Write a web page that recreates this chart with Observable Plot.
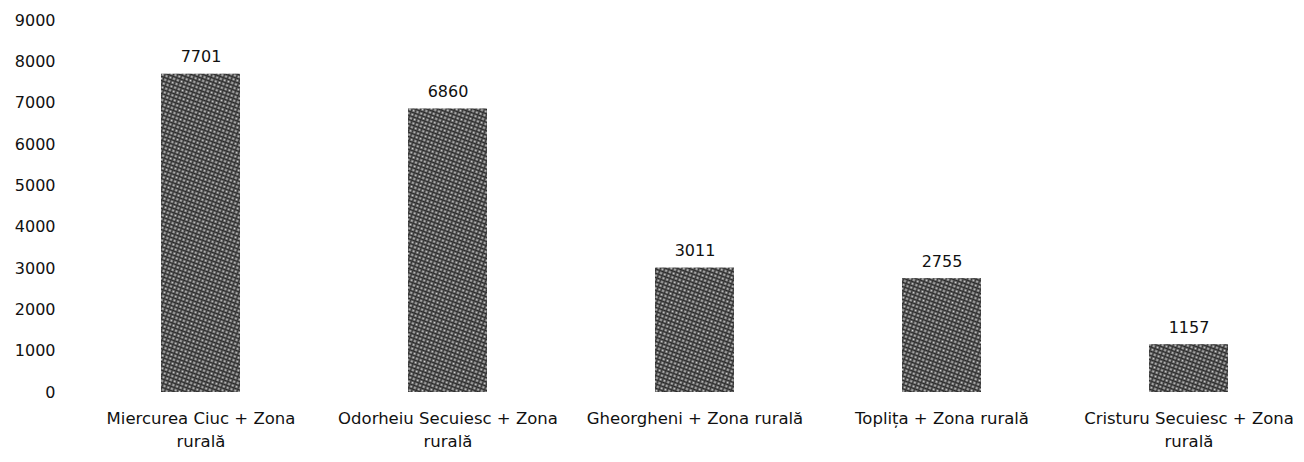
<!DOCTYPE html>
<html>
<head>
<meta charset="utf-8">
<script src="https://cdn.jsdelivr.net/npm/d3@7"></script>
<script src="https://cdn.jsdelivr.net/npm/@observablehq/plot@0.6"></script>
<style>
  html, body { margin: 0; padding: 0; background: #fff; }
  #chart { width: 1304px; height: 462px; overflow: hidden; }
</style>
</head>
<body>
<div id="chart"></div>
<script>
const categories = [
  "Miercurea Ciuc + Zona rurală",
  "Odorheiu Secuiesc + Zona rurală",
  "Gheorgheni + Zona rurală",
  "Toplița + Zona rurală",
  "Cristuru Secuiesc + Zona rurală"
];
const tickLabels = [
  "Miercurea Ciuc + Zona\nrurală",
  "Odorheiu Secuiesc + Zona\nrurală",
  "Gheorgheni + Zona rurală",
  "Toplița + Zona rurală",
  "Cristuru Secuiesc + Zona\nrurală"
];
const values = [7701, 6860, 3011, 2755, 1157];
const yTicks = [0, 1000, 2000, 3000, 4000, 5000, 6000, 7000, 8000, 9000];

const data = categories.map((c, i) => ({category: c, value: values[i]}));
const labelOf = new Map(categories.map((c, i) => [c, tickLabels[i]]));

const chart = Plot.plot({
  width: 1304,
  height: 462,
  marginTop: 20,
  marginBottom: 70,
  marginLeft: 77,
  marginRight: 0,
  style: {fontFamily: "'DejaVu Sans', sans-serif", fontSize: "16px", color: "#111", background: "#fff", overflow: "visible"},
  x: {domain: categories, range: [77, 1313], paddingInner: 0.68, paddingOuter: 0.34, label: null},
  y: {domain: [0, 9000], label: null},
  marks: [
    Plot.barY(data, {x: "category", y: "value", fill: "url(#hatch)"}),
    Plot.text(data, {x: "category", y: "value", text: d => String(d.value), dy: -12, lineAnchor: "bottom", fontSize: 16, fill: "#111"}),
    Plot.axisY({ticks: yTicks, tickSize: 0, tickPadding: 22, tickFormat: d => String(d), fontSize: 16}),
    Plot.axisX({tickSize: 0, tickPadding: 15, tickFormat: d => labelOf.get(d), fontSize: 16.5, lineHeight: 1.4})
  ]
});

const svgNS = "http://www.w3.org/2000/svg";
const defs = document.createElementNS(svgNS, "defs");
defs.innerHTML = `
<pattern id="hatch" patternUnits="userSpaceOnUse" width="4" height="4" patternTransform="rotate(20)">
  <rect width="4" height="4" fill="#727272"/>
  <path d="M0,0.5 H4" stroke="#262626" stroke-width="1.2"/>
  <path d="M0.5,0 V4" stroke="#363636" stroke-width="1"/>
  <rect x="2" y="2" width="1.2" height="1.2" fill="#d8d8d8"/>
</pattern>`;
chart.insertBefore(defs, chart.firstChild);
document.getElementById("chart").appendChild(chart);
</script>
</body>
</html>
